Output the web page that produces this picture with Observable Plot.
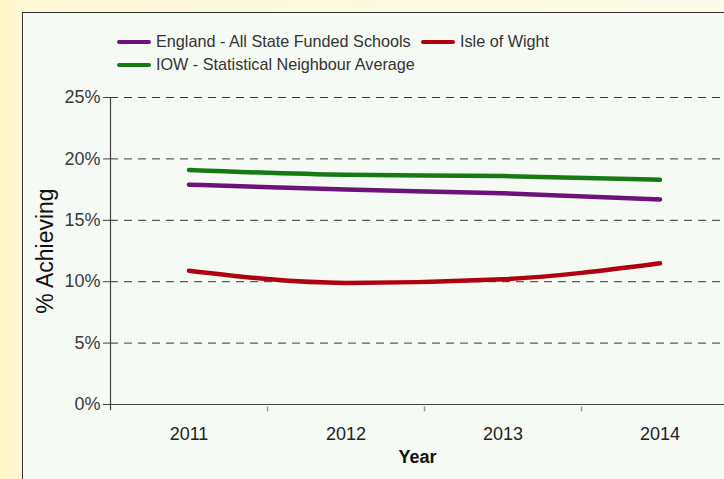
<!DOCTYPE html>
<html>
<head>
<meta charset="utf-8">
<script src="https://cdn.jsdelivr.net/npm/d3@7"></script>
<script src="https://cdn.jsdelivr.net/npm/@observablehq/plot@0.6"></script>
<style>
  html, body { margin: 0; padding: 0; overflow: hidden; }
  body { width: 724px; height: 479px; position: relative; font-family: "Liberation Sans", Arial, sans-serif;
         background: linear-gradient(90deg, #fff7c2 0px, #fdf8d6 22px, #fbfbe6 100%); }
  #panel { position: absolute; left: 22px; top: 12px; width: 702px; height: 467px; background: #f6faf4;
           border-left: 1.5px solid #333; border-top: 1.5px solid #333; box-sizing: border-box; }
  #chart { position: absolute; left: 0; top: 80px; }
  .leg { position: absolute; font-size: 16.2px; color: #333; white-space: nowrap; }
  .sw { position: absolute; height: 4px; border-radius: 2px; }
</style>
</head>
<body>
<div id="panel"></div>
<div id="legend"></div>
<div id="chart"></div>
<script>
const years = [2011, 2012, 2013, 2014];
const seriesNames = ["England - All State Funded Schools", "Isle of Wight", "IOW - Statistical Neighbour Average"];
const seriesColors = ["#6c127a", "#b0000f", "#157a14"];
const england = [17.9, 17.5, 17.2, 16.7];
const isleOfWight = [10.9, 9.9, 10.2, 11.5];
const neighbour = [19.1, 18.7, 18.6, 18.3];
const yTicks = [0, 5, 10, 15, 20, 25];
const bandEdges = [2011.5, 2012.5, 2013.5];

const seriesValues = [england, isleOfWight, neighbour];
const data = [];
seriesNames.forEach((s, i) => years.forEach((y, j) => data.push({series: s, year: y, value: seriesValues[i][j]})));

// legend (HTML)
const legendPos = [
  {x: 117, y: 42}, {x: 421, y: 42}, {x: 117, y: 65}
];
const legend = document.getElementById("legend");
seriesNames.forEach((s, i) => {
  const p = legendPos[i];
  const sw = document.createElement("div");
  sw.className = "sw";
  sw.style.cssText = `left:${p.x}px;top:${p.y - 2}px;width:34px;background:${seriesColors[i]}`;
  legend.appendChild(sw);
  const t = document.createElement("div");
  t.className = "leg";
  t.textContent = s;
  t.style.left = (p.x + 39) + "px";
  t.style.top = (p.y - 10) + "px";
  legend.appendChild(t);
});

const chart = Plot.plot({
  width: 724,
  height: 399,
  marginLeft: 110,
  marginRight: 0,
  marginTop: 17,
  marginBottom: 75,
  style: {fontFamily: "Liberation Sans, Arial, sans-serif", fontSize: "18px", color: "#333", background: "transparent", overflow: "hidden"},
  x: {type: "linear", domain: [2010.5, 2014.5], range: [110, 738]},
  y: {domain: [0, 25]},
  color: {domain: seriesNames, range: seriesColors},
  marks: [
    Plot.gridY(yTicks.filter(d => d > 0), {stroke: "#222", strokeOpacity: 0.9, strokeDasharray: "8,6"}),
    Plot.ruleY([0], {stroke: "#444", strokeWidth: 1.2, x1: 2010.47, x2: 2014.5}),
    Plot.ruleX([2010.5], {y1: -0.5, y2: 25, stroke: "#444", strokeWidth: 1.2, clip: false}),
    Plot.ruleX(bandEdges, {y1: -0.2, y2: -0.6, stroke: "#999", strokeWidth: 1.5}),
    Plot.axisY(yTicks, {tickSize: 7, tickPadding: 3, tickFormat: d => d + "%", fontSize: 18, stroke: "#444", fill: "#3a3a3a",
      label: "% Achieving", labelAnchor: "center", labelArrow: "none", labelOffset: 74}),
    Plot.axisX(years, {tickSize: 0, tickPadding: 23, tickFormat: d => String(d), fontSize: 18, fill: "#222",
      label: "Year", labelAnchor: "center", labelArrow: "none", labelOffset: 58}),
    Plot.line(data, {x: "year", y: "value", z: "series", stroke: "series", strokeWidth: 4.5, curve: "monotone-x", strokeLinecap: "round"})
  ]
});
document.getElementById("chart").appendChild(chart);
// style axis labels
chart.querySelectorAll("[aria-label='y-axis label'] text").forEach(t => { t.style.fontSize = "23px"; t.style.fill = "#111"; });
chart.querySelectorAll("[aria-label='x-axis label'] text").forEach(t => { t.style.fontSize = "18px"; t.style.fontWeight = "bold"; t.style.fill = "#111"; });
</script>
</body>
</html>
